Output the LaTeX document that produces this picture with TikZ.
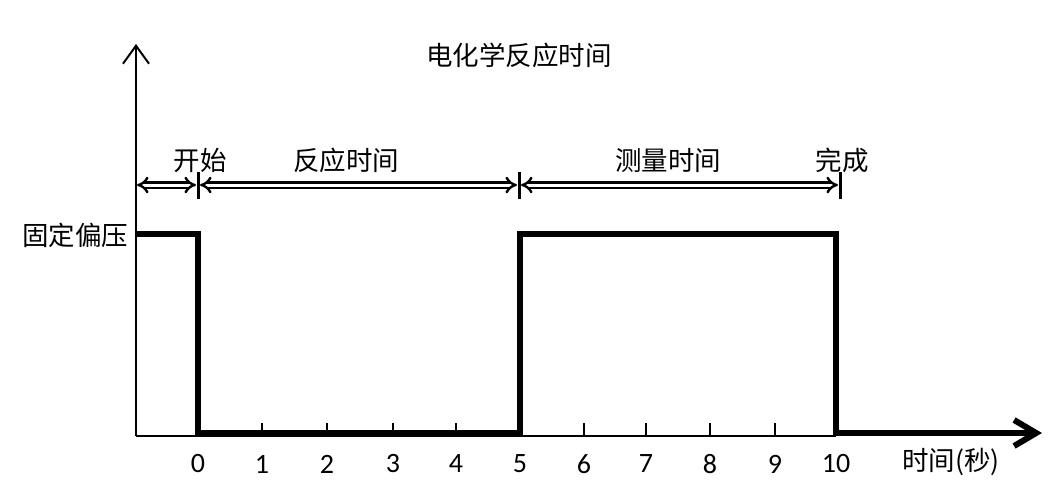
\documentclass[tikz,border=0pt]{standalone}
\usepackage{fontspec}
\newfontfamily\cjk{Noto Sans CJK SC}
\newfontfamily\numfont{Carlito}
\usetikzlibrary{arrows.meta}
\begin{document}
\begin{tikzpicture}[x=1pt,y=-1pt,
  lbl/.style={font=\cjk\fontsize{26.5}{26.5}\selectfont, inner sep=0pt},
  num/.style={font=\numfont\fontsize{28}{28}\selectfont, inner sep=0pt},
  axisline/.style={line width=2pt},
  pulse/.style={line width=6pt, line join=miter},
  span/.style={double, line width=2.4pt, double distance=3pt, {Implies}-{Implies}},
  bar/.style={line width=3pt},
  tickmark/.style={line width=2pt}]
\useasboundingbox (0,0) rectangle (1055,496);
% coordinates
\coordinate (O) at (136,436);
\coordinate (Ytop) at (136,44);
\coordinate (Xend) at (836,436);
\coordinate (H0) at (136,234);
\coordinate (T0) at (198,433);
\coordinate (T5) at (520,234);
\coordinate (T10) at (836,433);
\coordinate (Xtip) at (1042,433);
% axes
\draw[axisline, -{Straight Barb[length=18pt,width=26pt]}] (O) -- (Ytop);
\draw[axisline] (O) -- (Xend);
% pulse
\draw[pulse, -{Straight Barb[length=22pt,width=26pt]}] (H0) -| (T0) -| (T5) -| (T10) -- (Xtip);
% ticks and labels
\foreach \t/\x in {1/262,2/327,3/393,4/456,6/584,7/646,8/710,9/775}{
  \coordinate (k\t) at (\x,436);
  \coordinate (kt\t) at (\x,423);
  \draw[tickmark] (k\t) -- (kt\t);
}
\foreach \t/\x in {0/198,1/262,2/327,3/393,4/456,5/520,6/584,7/646,8/710,9/775,10/836}{
  \node[num] (n\t) at (\x,464) {\t};
}
\node[lbl, anchor=west] (xl) at (902,462) {时间(秒)};
% span markers
\coordinate (B0a) at (198,172); \coordinate (B0b) at (198,199);
\coordinate (B5a) at (519,172); \coordinate (B5b) at (519,199);
\coordinate (B10a) at (840,172); \coordinate (B10b) at (840,199);
\draw[bar] (B0a) -- (B0b);
\draw[bar] (B5a) -- (B5b);
\draw[bar] (B10a) -- (B10b);
\coordinate (S0) at (137,185);
\coordinate (S1l) at (196,185); \coordinate (S1r) at (200,185);
\coordinate (S2l) at (517,185); \coordinate (S2r) at (521,185);
\coordinate (S3) at (838,185);
\draw[span] (S0) -- (S1l);
\draw[span] (S1r) -- (S2l);
\draw[span] (S2r) -- (S3);
% labels
\node[lbl] (title) at (519,55) {电化学反应时间};
\node[lbl] (start) at (200,160) {开始};
\node[lbl] (react) at (346,160) {反应时间};
\node[lbl] (meas) at (668,160) {测量时间};
\node[lbl] (done) at (842,160) {完成};
\node[lbl] (bias) at (75,235) {固定偏压};
\end{tikzpicture}
\end{document}
